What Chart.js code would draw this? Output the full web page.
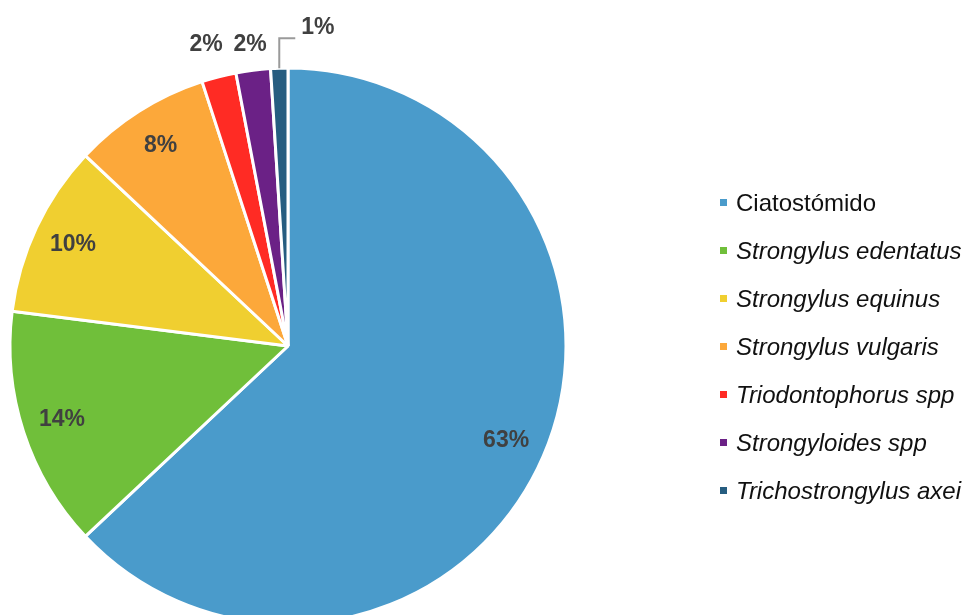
<!DOCTYPE html>
<html>
<head>
<meta charset="utf-8">
<script src="https://cdn.jsdelivr.net/npm/chart.js@4.4.1/dist/chart.umd.min.js"></script>
<style>
  html, body { margin: 0; padding: 0; background: #fff; overflow: hidden; }
  #wrap { position: relative; width: 971px; height: 615px; }
  #legend { position: absolute; left: 720px; top: 0; font-family: "Liberation Sans", Arial, sans-serif; font-size: 24px; color: #111; }
  #legend div { position: absolute; left: 0; white-space: nowrap; line-height: 26px; }
  #legend span.sw { display: inline-block; width: 7px; height: 7px; margin-right: 9px; vertical-align: middle; position: relative; top: -2px; }
</style>
</head>
<body>
<div id="wrap">
  <canvas id="pie"></canvas>
  <div id="legend"></div>
</div>
<script>
const labels = ['Ciatostómido', 'Strongylus edentatus', 'Strongylus equinus', 'Strongylus vulgaris',
                'Triodontophorus spp', 'Strongyloides spp', 'Trichostrongylus axei'];
const values = [63, 14, 10, 8, 2, 2, 1];
const colors = ['#4A9BCB', '#70BF3A', '#F0CF30', '#FCA83A', '#FF2B24', '#6B2186', '#265D80'];
const italic = [false, true, true, true, true, true, true];

// legend (html so species names can be italic)
const legendEl = document.getElementById('legend');
labels.forEach((name, i) => {
  const row = document.createElement('div');
  row.style.top = (190 + i * 48) + 'px';
  row.innerHTML = `<span class="sw" style="background:${colors[i]}"></span>` +
    (italic[i] ? `<i>${name}</i>` : name);
  legendEl.appendChild(row);
});

const pctLabels = {
  id: 'pctLabels',
  afterDatasetsDraw(chart) {
    const ctx = chart.ctx;
    const arcs = chart.getDatasetMeta(0).data;
    const total = values.reduce((s, v) => s + v, 0);
    ctx.save();
    ctx.font = 'bold 23px "Liberation Sans", Arial, sans-serif';
    ctx.fillStyle = '#404040';
    ctx.textAlign = 'center';
    ctx.textBaseline = 'middle';
    let prevX = null;
    for (let i = arcs.length - 1; i >= 0; i--) {
      const a = arcs[i];
      const pct = Math.round(values[i] / total * 100) + '%';
      const mid = (a.startAngle + a.endAngle) / 2;
      const r = a.outerRadius;
      if (values[i] >= 5) {
        ctx.fillText(pct, a.x + Math.cos(mid) * r * 0.855, a.y + Math.sin(mid) * r * 0.855);
      } else if (i === arcs.length - 1) {
        // smallest slice: leader line
        const ex = a.x + Math.cos(mid) * r, ey = a.y + Math.sin(mid) * r;
        ctx.strokeStyle = '#9a9a9a';
        ctx.lineWidth = 2;
        ctx.beginPath();
        ctx.moveTo(ex, ey);
        ctx.lineTo(ex, ey - 30);
        ctx.lineTo(ex + 16, ey - 30);
        ctx.stroke();
        ctx.textAlign = 'left';
        ctx.fillText(pct, ex + 22, ey - 40);
        ctx.textAlign = 'center';
      } else {
        let x = a.x + Math.cos(mid) * (r + 25);
        const y = a.y - r - 23;
        if (prevX !== null && prevX - x < 44) x = prevX - 44;
        ctx.fillText(pct, x, y);
        prevX = x;
      }
    }
    ctx.restore();
  }
};

new Chart(document.getElementById('pie'), {
  type: 'pie',
  data: {
    labels,
    datasets: [{
      data: values,
      backgroundColor: colors,
      borderColor: '#ffffff',
      borderWidth: 3,
      radius: 278,
      clip: false,
    }]
  },
  options: {
    responsive: true,
    maintainAspectRatio: false,
    animation: false,
    layout: { padding: { left: 0, right: 395, top: 77, bottom: 0 } },
    plugins: {
      legend: { display: false },
      tooltip: { enabled: false }
    }
  },
  plugins: [pctLabels]
});
</script>
</body>
</html>
